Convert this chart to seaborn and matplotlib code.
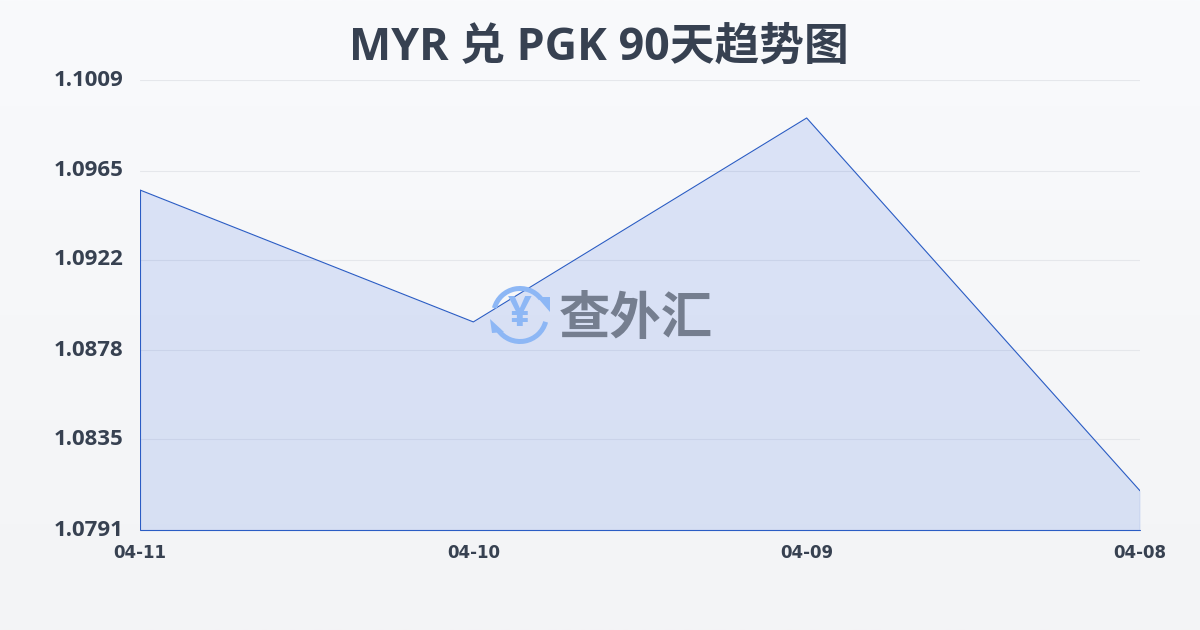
import numpy as np
import pandas as pd
import matplotlib
matplotlib.use('Agg')
import matplotlib.pyplot as plt
import seaborn as sns
from matplotlib.patches import Arc, Polygon

# Data
dates = ['04-11', '04-10', '04-09', '04-08']
rates = [1.09557, 1.08918, 1.09906, 1.08100]
y_ticks = [1.0791, 1.0835, 1.0878, 1.0922, 1.0965, 1.1009]
title = 'MYR 兑 PGK 90天趋势图'
watermark = '查外汇'

sns.set_theme(style='white')
plt.rcParams['font.family'] = ['Open Sans', 'Noto Sans CJK SC', 'DejaVu Sans']

df = pd.DataFrame({'date': dates, 'rate': rates})
df['pos'] = range(len(df))

fig = plt.figure(figsize=(12, 6.3), dpi=100)

# Background gradient
bg = fig.add_axes([0, 0, 1, 1], zorder=0)
bg.imshow(np.linspace(0, 1, 256).reshape(-1, 1), aspect='auto', extent=[0, 1, 0, 1],
          cmap=matplotlib.colors.LinearSegmentedColormap.from_list('bg', ['#f9fafc', '#f3f4f6']))
bg.axis('off')

# Plot area: x 140-1140, y 80-530 in pixels
ax = fig.add_axes([140 / 1200, 100 / 630, 1000 / 1200, 450 / 630], zorder=1)
ax.patch.set_alpha(0)

line_color = '#2a5cc4'
ax.fill_between(df['pos'], df['rate'], y_ticks[0], color='#2058e0', alpha=0.135, linewidth=0, zorder=2)
sns.lineplot(data=df, x='pos', y='rate', ax=ax, color=line_color, linewidth=0.8, zorder=3)
# outline closes down to the baseline
ax.plot([0, 0], [y_ticks[0], rates[0]], color=line_color, linewidth=0.8, zorder=3)
ax.plot([3, 3], [y_ticks[0], rates[-1]], color=line_color, linewidth=0.8, zorder=3)
ax.plot([0, 3], [y_ticks[0], y_ticks[0]], color=line_color, linewidth=0.8, zorder=3, clip_on=False)

ax.set_xlim(0, 3)
ax.set_ylim(y_ticks[0], y_ticks[-1])
ax.set_xticks(df['pos'])
ax.set_xticklabels(dates)
ax.set_yticks(y_ticks)
ax.set_yticklabels([f'{v:.4f}' for v in y_ticks])
ax.set_xlabel('')
ax.set_ylabel('')
ax.grid(axis='y', color='#e5e7eb', linewidth=0.8, zorder=1)
for side in ax.spines:
    ax.spines[side].set_visible(False)
ax.tick_params(axis='x', length=7, width=0.8, color='#e8eaee', pad=3, labelsize=12, labelcolor='#374151')
ax.tick_params(axis='y', length=0, pad=12, labelsize=16, labelcolor='#374151')
for lab in ax.get_xticklabels():
    lab.set_fontweight('bold')
    lab.set_family('DejaVu Sans')
for lab in ax.get_yticklabels():
    lab.set_fontweight('bold')
    lab.set_verticalalignment('center')

fig.text(599 / 1200, 1 - 48 / 630, title, ha='center', va='center', fontsize=32.2,
         fontweight='bold', color='#374151')

# Watermark, in pixel coordinates
ov = fig.add_axes([0, 0, 1, 1], zorder=5)
ov.set_xlim(0, 1200)
ov.set_ylim(630, 0)
ov.axis('off')
icon = '#8db7f5'
ov.add_patch(Arc((520, 315), 53, 53, theta1=195, theta2=322, color=icon, linewidth=3.6))
ov.add_patch(Arc((520, 315), 53, 53, theta1=15, theta2=145, color=icon, linewidth=3.6))
ov.add_patch(Polygon([(537, 297), (550, 297), (550, 312)], closed=True, color=icon, linewidth=0))
ov.add_patch(Polygon([(490, 319), (504, 332), (492, 333)], closed=True, color=icon, linewidth=0))
ov.text(520, 315, '¥', ha='center', va='center', fontsize=30, fontweight='bold', color=icon)
ov.text(636, 321, watermark, ha='center', va='center', fontsize=37, fontweight='bold', color='#757e8f')

fig.savefig('out.png', dpi=100)
